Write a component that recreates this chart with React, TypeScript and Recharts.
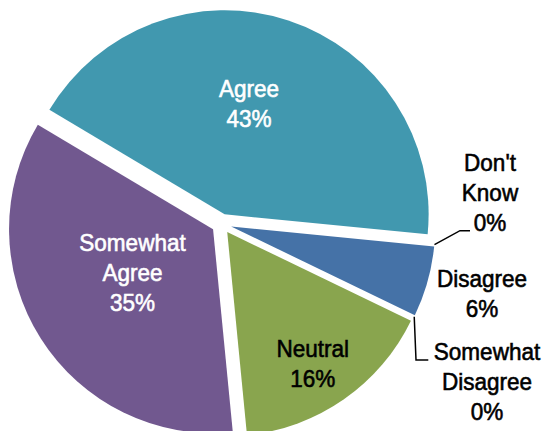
import React from "react";
import { PieChart, Pie, Sector } from "recharts";

// slices in drawing order (clockwise from the right-hand side)
const categories = ["Disagree", "Somewhat Disagree", "Neutral", "Somewhat Agree", "Agree", "Don't Know"];
const shares = [5.6, 0, 16.3, 35.1, 43.0, 0];
const sliceColors = ["#4572A7", "#AA4643", "#89A54E", "#71588F", "#4198AF", "#DB843D"];
const labelColors = ["#000000", "#000000", "#000000", "#ffffff", "#ffffff", "#000000"];

// label anchor (centre x, first baseline) as offsets from the pie centre
const labelOffsets = [
  { x: 260.5, y: 62.9 },
  { x: 265.5, y: 136.2 },
  { x: 91.2, y: 132.9 },
  { x: -89, y: 26.9 },
  { x: 27.5, y: -126.8 },
  { x: 268.5, y: -53.1 },
];

// leader elbows for the zero slices, offsets from the pie centre
const leaders: Record<number, { elbow: [number, number]; end: [number, number] }> = {
  1: { elbow: [194.5, 136.2], end: [206.8, 136.2] },
  5: { elbow: [238.5, 6.9], end: [248.5, 6.9] },
};

const data = categories.map((name, i) => ({ name, value: shares[i] }));

const RAD = Math.PI / 180;
const EXPLODE = 10;
const LINE_H = 30;
const FONT = '"Liberation Sans", Arial, sans-serif';

function renderSlice(props: any) {
  const { cx, cy, outerRadius, startAngle, endAngle, midAngle, index, percent, name } = props;
  const sx = cx + EXPLODE * Math.cos(-midAngle * RAD);
  const sy = cy + EXPLODE * Math.sin(-midAngle * RAD);
  const zero = Math.abs(endAngle - startAngle) < 1e-6;
  const off = labelOffsets[index];
  const lines = [...String(name).split(" "), `${Math.round(percent * 100)}%`];
  const leader = leaders[index];
  let leaderPath = null;
  if (leader) {
    const ox = sx + outerRadius * Math.cos(-midAngle * RAD);
    const oy = sy + outerRadius * Math.sin(-midAngle * RAD);
    leaderPath = (
      <polyline
        points={`${ox},${oy} ${cx + leader.elbow[0]},${cy + leader.elbow[1]} ${cx + leader.end[0]},${cy + leader.end[1]}`}
        fill="none"
        stroke="#000"
        strokeWidth={1.5}
      />
    );
  }
  return (
    <g key={`slice-${index}`}>
      <Sector
        cx={sx}
        cy={sy}
        innerRadius={0}
        outerRadius={outerRadius}
        startAngle={startAngle}
        endAngle={endAngle}
        fill={sliceColors[index]}
        stroke={zero ? sliceColors[index] : "none"}
        strokeWidth={1.3}
      />
      {leaderPath}
      <g transform={`translate(${cx + off.x},${cy + off.y}) scale(0.92,1)`}>
        {lines.map((t, i) => (
          <text
            key={i}
            x={0}
            y={i * LINE_H}
            textAnchor="middle"
            fontFamily={FONT}
            fontSize={24.5}
            fill={labelColors[index]}
            stroke={labelColors[index]}
            strokeWidth={0.6}
          >
            {t}
          </text>
        ))}
      </g>
    </g>
  );
}

export default function App() {
  return (
    <div style={{ position: "absolute", left: 0, top: 0, background: "#fff" }}>
      <PieChart width={544} height={431} margin={{ top: 0, right: 0, bottom: 0, left: 0 }}>
        <Pie
          data={data}
          dataKey="value"
          nameKey="name"
          cx={221.5}
          cy={223.8}
          outerRadius={204}
          startAngle={-5.6}
          endAngle={-365.6}
          fill="none"
          stroke="none"
          label={renderSlice}
          labelLine={false}
          isAnimationActive={false}
        />
      </PieChart>
    </div>
  );
}
